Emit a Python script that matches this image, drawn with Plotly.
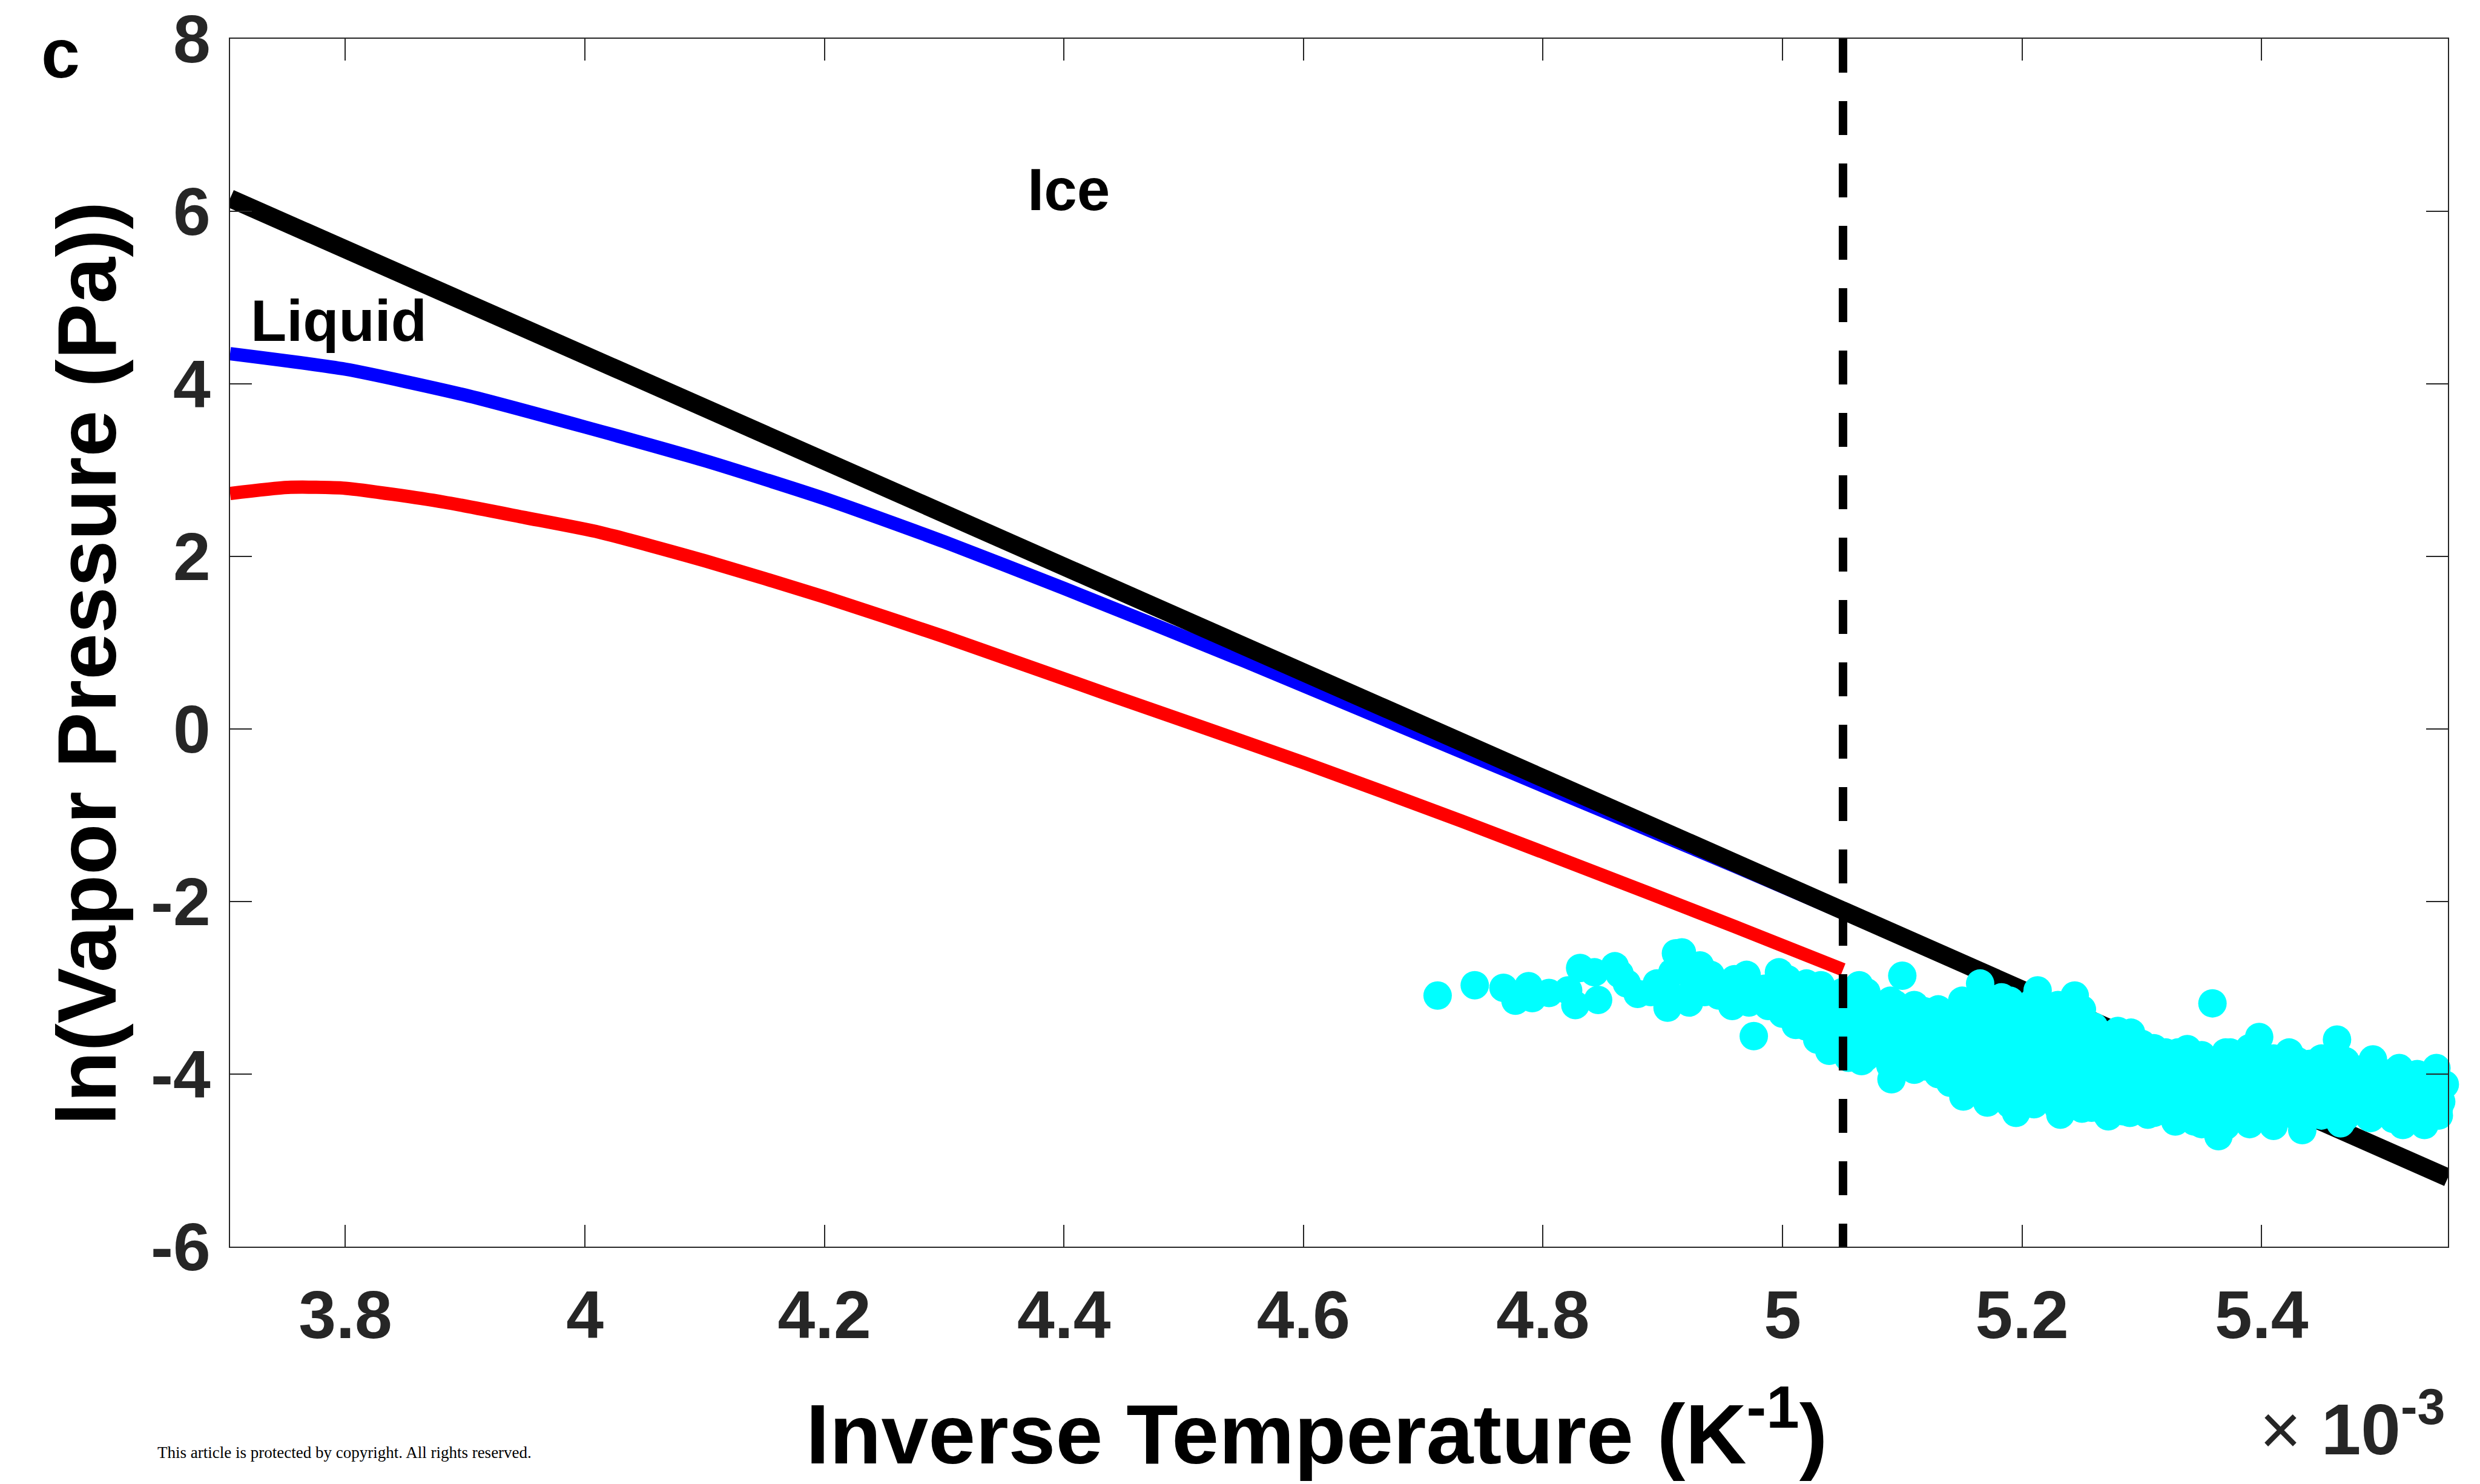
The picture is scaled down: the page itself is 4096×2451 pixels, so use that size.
import plotly.graph_objects as go

# ---------------- data (x in units of 1e-3 K^-1) ----------------
ice_x = [3.7037, 4.0, 4.5, 5.0, 5.5556]
ice_y = [6.15, 4.33, 1.27, -1.79, -5.20]

liquid_x = [3.7037, 3.80, 3.90, 4.00, 4.10, 4.20, 4.30, 4.40, 4.55, 4.70, 4.85, 4.96, 5.0505]
liquid_y = [4.35, 4.17, 3.87, 3.50, 3.11, 2.67, 2.17, 1.63, 0.79, -0.08, -0.95, -1.59, -2.13]

model_x = [3.7037, 3.752, 3.80, 3.882, 3.95, 4.012, 4.10, 4.20, 4.30, 4.435, 4.60, 4.7326, 4.888, 4.96, 5.0505]
model_y = [2.73, 2.80, 2.79, 2.63, 2.45, 2.28, 1.95, 1.53, 1.07, 0.41, -0.39, -1.07, -1.90, -2.29, -2.79]

threshold_x = 5.0505  # 1/198 K

obs_points = [
    # sparse left part
    (4.712, -3.09), (4.743, -2.97), (4.767, -3.00), (4.777, -3.15), (4.788, -2.98),
    (4.791, -3.12), (4.805, -3.06), (4.821, -3.03), (4.827, -3.20), (4.831, -2.77),
    (4.843, -2.82), (4.846, -3.14), (4.860, -2.75), (4.864, -2.84), (4.879, -3.07),
    (4.895, -2.95), (4.904, -3.23), (4.911, -2.60), (4.908, -2.82), (4.905, -3.07),
    (4.870, -2.95), (4.890, -3.05),
    # band 4.91 - 5.13
    (4.916, -2.59), (4.931, -2.74), (4.922, -3.17), (4.926, -2.97), (4.944, -2.97),
    (4.947, -3.09), (4.958, -3.21), (4.960, -2.90), (4.973, -3.01), (4.972, -3.17),
    (4.976, -3.56), (4.985, -3.01), (4.988, -3.21), (4.997, -2.82), (5.004, -2.90),
    (5.010, -3.09), (5.011, -3.43), (5.020, -3.09), (5.024, -3.25), (5.032, -2.97),
    (5.029, -3.60), (5.039, -3.73), (5.044, -3.17), (5.053, -3.42), (5.055, -3.81),
    (5.064, -2.97), (5.066, -3.85), (5.066, -3.56), (5.074, -3.17), (5.080, -3.36),
    (5.080, -3.75), (5.087, -3.56), (5.091, -4.06), (5.094, -3.19), (5.100, -2.86),
    (5.101, -3.36), (5.108, -3.65), (5.115, -3.65), (5.118, -3.27), (5.119, -3.91),
    (5.129, -3.56), (5.129, -3.97),
    (4.930, -2.90), (4.950, -3.02), (4.990, -3.05), (5.000, -3.30), (5.030, -3.40),
    (5.045, -3.60), (5.015, -3.25),
    (4.920, -2.80), (4.935, -3.05), (4.940, -2.85), (4.955, -2.95), (4.965, -3.10),
    (4.970, -2.85), (4.980, -3.10), (4.995, -3.15), (5.005, -3.05), (5.020, -2.95),
    (5.035, -3.05), (5.040, -3.30), (5.050, -3.05), (5.050, -3.25), (5.055, -3.60),
    (5.020, -3.45), (5.010, -3.25), (5.000, -3.10), (5.035, -3.55),
    # edges of the dense cloud
    (5.165, -2.95), (5.183, -3.11), (5.213, -3.03), (5.244, -3.09), (5.144, -3.34),
    (5.164, -3.48), (5.188, -3.36), (5.216, -3.36), (5.249, -3.40), (5.280, -3.50),
    (5.291, -3.52), (5.338, -3.71), (5.314, -3.75), (5.151, -4.26), (5.171, -4.33),
    (5.195, -4.45), (5.211, -4.26), (5.232, -4.47), (5.258, -4.39), (5.272, -4.49),
    (5.284, -4.43), (5.305, -4.47), (5.328, -4.55), (5.344, -4.55), (5.140, -3.95),
    (5.359, -3.18), (5.398, -3.57), (5.463, -3.60), (5.337, -3.74), (5.374, -3.75),
    (5.423, -3.75), (5.441, -3.88), (5.493, -3.83), (5.515, -3.93), (5.546, -3.93),
    (5.553, -4.12), (5.550, -4.32), (5.364, -4.72), (5.391, -4.55), (5.434, -4.65),
    (5.466, -4.57), (5.491, -4.51), (5.518, -4.59), (5.536, -4.59), (5.548, -4.48),
    (5.456, -4.04),
    # dense interior of the cloud
    (5.06, -3.15), (5.06, -3.40), (5.06, -3.65),
    (5.07, -3.05), (5.07, -3.30), (5.07, -3.55), (5.07, -3.80),
    (5.08, -3.25), (5.08, -3.50), (5.08, -3.75),
    (5.09, -3.15), (5.09, -3.40), (5.09, -3.65), (5.09, -3.90),
    (5.10, -3.30), (5.10, -3.55), (5.10, -3.80),
    (5.11, -3.20), (5.11, -3.45), (5.11, -3.70), (5.11, -3.95),
    (5.12, -3.40), (5.12, -3.65), (5.12, -3.85),
    (5.13, -3.25), (5.13, -3.50), (5.13, -3.75), (5.13, -4.00),
    (5.14, -3.35), (5.14, -3.60), (5.14, -3.85), (5.14, -4.10),
    (5.15, -3.15), (5.15, -3.45), (5.15, -3.70), (5.15, -3.95), (5.15, -4.15),
    (5.16, -3.25), (5.16, -3.55), (5.16, -3.80), (5.16, -4.05),
    (5.17, -3.10), (5.17, -3.40), (5.17, -3.65), (5.17, -3.90), (5.17, -4.15),
    (5.18, -3.30), (5.18, -3.55), (5.18, -3.80), (5.18, -4.05), (5.18, -4.25),
    (5.19, -3.15), (5.19, -3.40), (5.19, -3.65), (5.19, -3.90), (5.19, -4.15), (5.19, -4.35),
    (5.20, -3.25), (5.20, -3.50), (5.20, -3.75), (5.20, -4.00), (5.20, -4.25),
    (5.21, -3.15), (5.21, -3.40), (5.21, -3.65), (5.21, -3.90), (5.21, -4.15), (5.21, -4.35),
    (5.22, -3.30), (5.22, -3.55), (5.22, -3.80), (5.22, -4.05), (5.22, -4.25),
    (5.23, -3.20), (5.23, -3.45), (5.23, -3.70), (5.23, -3.95), (5.23, -4.20), (5.23, -4.38),
    (5.24, -3.35), (5.24, -3.60), (5.24, -3.85), (5.24, -4.10), (5.24, -4.30),
    (5.25, -3.25), (5.25, -3.50), (5.25, -3.75), (5.25, -4.00), (5.25, -4.25), (5.25, -4.40),
    (5.26, -3.45), (5.26, -3.70), (5.26, -3.95), (5.26, -4.20),
    (5.27, -3.55), (5.27, -3.80), (5.27, -4.05), (5.27, -4.30), (5.27, -4.45),
    (5.28, -3.65), (5.28, -3.90), (5.28, -4.15), (5.28, -4.35),
    (5.29, -3.55), (5.29, -3.78), (5.29, -4.02), (5.29, -4.25), (5.29, -4.45),
    (5.30, -3.65), (5.30, -3.90), (5.30, -4.15), (5.30, -4.35),
    (5.31, -3.70), (5.31, -3.95), (5.31, -4.20), (5.31, -4.45),
    (5.32, -3.75), (5.32, -4.00), (5.32, -4.25), (5.32, -4.40),
    (5.33, -3.75), (5.33, -3.95), (5.33, -4.15), (5.33, -4.35), (5.33, -4.52),
    (5.34, -3.80), (5.34, -4.05), (5.34, -4.30), (5.34, -4.45),
    (5.35, -3.78), (5.35, -3.98), (5.35, -4.20), (5.35, -4.42), (5.35, -4.58),
    (5.36, -3.85), (5.36, -4.10), (5.36, -4.35),
    (5.37, -3.75), (5.37, -3.95), (5.37, -4.20), (5.37, -4.42), (5.37, -4.60),
    (5.38, -3.80), (5.38, -4.05), (5.38, -4.30), (5.38, -4.50),
    (5.39, -3.70), (5.39, -3.92), (5.39, -4.18), (5.39, -4.40), (5.39, -4.58),
    (5.40, -3.80), (5.40, -4.05), (5.40, -4.30), (5.40, -4.45),
    (5.41, -3.82), (5.41, -4.00), (5.41, -4.22), (5.41, -4.45), (5.41, -4.60),
    (5.42, -3.90), (5.42, -4.15), (5.42, -4.40),
    (5.43, -3.85), (5.43, -4.05), (5.43, -4.28), (5.43, -4.50),
    (5.44, -3.95), (5.44, -4.20), (5.44, -4.40),
    (5.45, -3.82), (5.45, -4.05), (5.45, -4.28), (5.45, -4.48),
    (5.46, -3.90), (5.46, -4.15), (5.46, -4.35),
    (5.47, -3.85), (5.47, -4.08), (5.47, -4.30), (5.47, -4.50),
    (5.48, -3.95), (5.48, -4.20), (5.48, -4.40),
    (5.49, -3.90), (5.49, -4.10), (5.49, -4.32), (5.49, -4.50),
    (5.50, -4.00), (5.50, -4.25), (5.50, -4.45),
    (5.51, -3.98), (5.51, -4.15), (5.51, -4.35), (5.51, -4.52),
    (5.52, -4.05), (5.52, -4.25), (5.52, -4.45),
    (5.53, -4.00), (5.53, -4.18), (5.53, -4.38), (5.53, -4.52),
    (5.54, -4.10), (5.54, -4.30),
    (5.548, -4.20), (5.548, -4.40),
]
obs_x = [p[0] for p in obs_points]
obs_y = [p[1] for p in obs_points]

x_range = [3.7037, 5.5556]
y_range = [-6.0001, 8.0001]
x_ticks = [3.8, 4.0, 4.2, 4.4, 4.6, 4.8, 5.0, 5.2, 5.4]
x_ticktext = ["3.8", "4", "4.2", "4.4", "4.6", "4.8", "5", "5.2", "5.4"]
y_ticks = [-6, -4, -2, 0, 2, 4, 6, 8]
y_ticktext = ["-6", "-4", "-2", "0", "2", "4", "6", "8"]

# ---------------- figure ----------------
FONT = "Liberation Sans, Arial, Helvetica, sans-serif"
fig = go.Figure()

fig.add_trace(go.Scatter(x=liquid_x, y=liquid_y, mode="lines",
                         line=dict(color="#0000FF", width=22, shape="spline", smoothing=0.6),
                         showlegend=False, hoverinfo="skip"))
fig.add_trace(go.Scatter(x=ice_x, y=ice_y, mode="lines",
                         line=dict(color="#000000", width=30),
                         showlegend=False, hoverinfo="skip"))
fig.add_trace(go.Scatter(x=obs_x, y=obs_y, mode="markers",
                         marker=dict(color="#00FFFF", size=47, line=dict(width=0)),
                         cliponaxis=False, showlegend=False, hoverinfo="skip"))
fig.add_trace(go.Scatter(x=model_x, y=model_y, mode="lines",
                         line=dict(color="#FF0000", width=22, shape="spline", smoothing=0.6),
                         showlegend=False, hoverinfo="skip"))
fig.add_trace(go.Scatter(x=[threshold_x, threshold_x], y=[8, -6], mode="lines",
                         line=dict(color="#000000", width=14, dash="56px,47px"),
                         showlegend=False, hoverinfo="skip"))

axis_common = dict(
    showgrid=False, zeroline=False, showline=True, linecolor="#262626", linewidth=2,
    mirror="allticks", ticks="inside", ticklen=36, tickwidth=2, tickcolor="#262626",
    ticklabeloverflow="allow",
    tickfont=dict(family=FONT, size=111, color="#262626", weight="bold"),
)
fig.update_xaxes(range=x_range, tickvals=x_ticks, ticktext=x_ticktext,
                 ticklabelstandoff=16, **axis_common)
fig.update_yaxes(range=y_range, tickvals=y_ticks, ticktext=y_ticktext,
                 ticklabelstandoff=8, **axis_common)

L, R, T, B = 380, 53, 64, 392
W, H = 4096, 2451
pw, ph = W - L - R, H - T - B

def px(x):
    return (x - L) / pw

def py(y):
    return (H - B - y) / ph

annotations = [
    dict(text="c", x=px(100), y=py(88), xref="paper", yref="paper", showarrow=False,
         font=dict(family=FONT, size=115, color="#000000", weight="bold"),
         xanchor="center", yanchor="middle"),
    dict(text="Ice", x=4.4037, y=6.255, xref="x", yref="y", showarrow=False,
         font=dict(family=FONT, size=98, color="#000000", weight="bold"),
         xanchor="center", yanchor="middle"),
    dict(text="Liquid", x=3.7945, y=4.73, xref="x", yref="y", showarrow=False,
         font=dict(family=FONT, size=97, color="#000000", weight="bold"),
         xanchor="center", yanchor="middle"),
    dict(text="Inverse Temperature (K<sup>-1</sup>)", x=px(2174), y=py(2358), xref="paper", yref="paper",
         showarrow=False, font=dict(family=FONT, size=140, color="#000000", weight="bold"),
         xanchor="center", yanchor="middle"),
    dict(text="ln(Vapor Pressure (Pa))", x=px(143), y=py(1096), xref="paper", yref="paper",
         showarrow=False, textangle=-90,
         font=dict(family=FONT, size=138, color="#000000", weight="bold"),
         xanchor="center", yanchor="middle"),
    dict(text="<span style='font-weight:normal'>\u00d7</span> 10<sup>-3</sup>", x=px(4040), y=py(2352),
         xref="paper", yref="paper", showarrow=False,
         font=dict(family=FONT, size=118, color="#262626", weight="bold"),
         xanchor="right", yanchor="middle"),
    dict(text="This article is protected by copyright. All rights reserved.", x=px(258), y=py(2399),
         xref="paper", yref="paper", showarrow=False,
         font=dict(family="Liberation Serif, Times New Roman, serif", size=27, color="#000000"),
         xanchor="left", yanchor="middle"),
]

fig.update_layout(
    width=W, height=H, margin=dict(l=L, r=R, t=T, b=B, autoexpand=False),
    paper_bgcolor="#FFFFFF", plot_bgcolor="#FFFFFF",
    annotations=annotations, showlegend=False,
)

fig.write_html("out.html")
